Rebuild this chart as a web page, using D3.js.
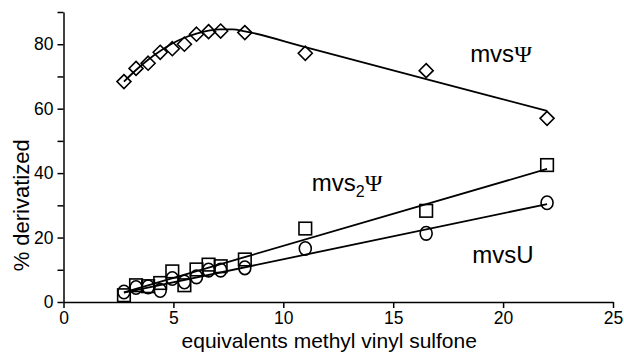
<!DOCTYPE html>
<html><head><meta charset="utf-8">
<script src="https://cdn.jsdelivr.net/npm/d3@7"></script>
<style>
html,body{margin:0;padding:0;background:#fff;}
svg{display:block;font-family:"Liberation Sans",Arial,sans-serif;}
</style></head>
<body><svg id="c" width="624" height="354"></svg>
<script>
// ---- data ----
const xEquiv = [2.75, 3.3, 3.85, 4.4, 4.95, 5.5, 6.05, 6.6, 7.15, 8.25, 11, 16.5, 22];
const mvsPsi  = [68.4, 72.5, 74.1, 77.5, 78.6, 80.0, 83.1, 83.9, 84.1, 83.6, 77.2, 71.8, 57.0];
const mvs2Psi = [2.1, 5.2, 4.9, 5.9, 9.5, 5.2, 10.1, 11.6, 11.1, 13.2, 22.8, 28.3, 42.5];
const mvsU    = [3.1, 4.5, 4.7, 3.6, 7.3, 6.2, 7.8, 9.9, 9.9, 10.6, 16.6, 21.3, 30.8];
// trend lines
const fitPsiX = [2.75, 3.3, 3.85, 4.4, 4.95, 5.5, 6.05, 6.6, 7.15, 7.7, 8.25, 11, 16.5, 22];
const fitPsiY = [68.4, 72.0, 75.2, 77.9, 80.2, 82.0, 83.3, 84.2, 84.6, 84.6, 84.0, 79.1, 69.2, 59.3];
const fit2PsiX = [2.75, 22];
const fit2PsiY = [3.0, 41.3];
const fitUX = [2.75, 22];
const fitUY = [2.9, 30.4];
const xTicks = [0, 5, 10, 15, 20, 25];
const yTicks = [0, 10, 20, 30, 40, 50, 60, 70, 80, 90];
const yLabels = [0, 20, 40, 60, 80];
const labels = [
  {parts: ["mvs", null, "Ψ"], x: 18.5, y: 74.5},
  {parts: ["mvs", "2", "Ψ"], x: 11.3, y: 34.5},
  {parts: ["mvsU", null, ""], x: 18.6, y: 12}
];

// ---- chart ----
const svg = d3.select("#c");
const m = {l: 63.5, r: 613, t: 12, b: 302};
const x = d3.scaleLinear().domain([0, 25]).range([m.l, m.r]);
const y = d3.scaleLinear().domain([0, 90]).range([m.b, m.t]);

const xa = svg.append("g").attr("transform", `translate(0,${m.b})`)
  .call(d3.axisBottom(x).tickValues(xTicks).tickSize(6).tickSizeOuter(0).tickPadding(4));
const ya = svg.append("g").attr("transform", `translate(${m.l},0)`)
  .call(d3.axisLeft(y).tickValues(yTicks).tickSize(6).tickSizeOuter(0).tickPadding(4)
    .tickFormat(d => yLabels.includes(d) ? d : ""));
[xa, ya].forEach(g => {
  g.selectAll("path,line").attr("stroke", "#000").attr("stroke-width", 1.5);
  g.selectAll("text").attr("font-size", 17.5).attr("fill", "#000")
   .attr("font-family", "Liberation Sans, Arial, sans-serif");
});

svg.append("text").attr("x", x(12.5) - 9).attr("y", 348).attr("text-anchor", "middle")
  .attr("font-size", 21).text("equivalents methyl vinyl sulfone");
svg.append("text").attr("transform", `translate(29,${y(30)}) rotate(-90)`)
  .attr("text-anchor", "middle").attr("font-size", 22).text("% derivatized");

const line = d3.line().x(d => x(d[0])).y(d => y(d[1]));
const lineC = d3.line().x(d => x(d[0])).y(d => y(d[1])).curve(d3.curveMonotoneX);
const zip = (a, b) => a.map((v, i) => [v, b[i]]);

svg.append("path").attr("d", lineC(zip(fitPsiX, fitPsiY)))
  .attr("fill", "none").attr("stroke", "#000").attr("stroke-width", 1.8);
svg.append("path").attr("d", line(zip(fit2PsiX, fit2PsiY)))
  .attr("fill", "none").attr("stroke", "#000").attr("stroke-width", 1.8);
svg.append("path").attr("d", line(zip(fitUX, fitUY)))
  .attr("fill", "none").attr("stroke", "#000").attr("stroke-width", 1.8);

// circles
svg.append("g").selectAll("ellipse").data(zip(xEquiv, mvsU)).join("ellipse")
  .attr("cx", d => x(d[0])).attr("cy", d => y(d[1])).attr("rx", 6).attr("ry", 6.8)
  .attr("fill", "none").attr("stroke", "#000").attr("stroke-width", 1.6);
// squares
svg.append("g").selectAll("rect").data(zip(xEquiv, mvs2Psi)).join("rect")
  .attr("x", d => x(d[0]) - 6.3).attr("y", d => y(d[1]) - 6.3).attr("width", 12.6).attr("height", 12.6)
  .attr("fill", "none").attr("stroke", "#000").attr("stroke-width", 1.6);
// diamonds
svg.append("g").selectAll("path").data(zip(xEquiv, mvsPsi)).join("path")
  .attr("d", d => { const cx = x(d[0]), cy = y(d[1]), r = 7;
    return `M${cx},${cy - r}L${cx + r},${cy}L${cx},${cy + r}L${cx - r},${cy}Z`; })
  .attr("fill", "none").attr("stroke", "#000").attr("stroke-width", 1.6);

// annotations
labels.forEach(l => {
  const t = svg.append("text").attr("x", x(l.x)).attr("y", y(l.y)).attr("font-size", 24);
  t.append("tspan").text(l.parts[0]);
  if (l.parts[1]) t.append("tspan").attr("font-size", 16).attr("dy", 6).text(l.parts[1]);
  if (l.parts[2]) t.append("tspan").attr("dy", l.parts[1] ? -6 : 0)
     .attr("font-family", "Liberation Serif, serif").attr("font-size", 24).text(l.parts[2]);
});
</script></body></html>
